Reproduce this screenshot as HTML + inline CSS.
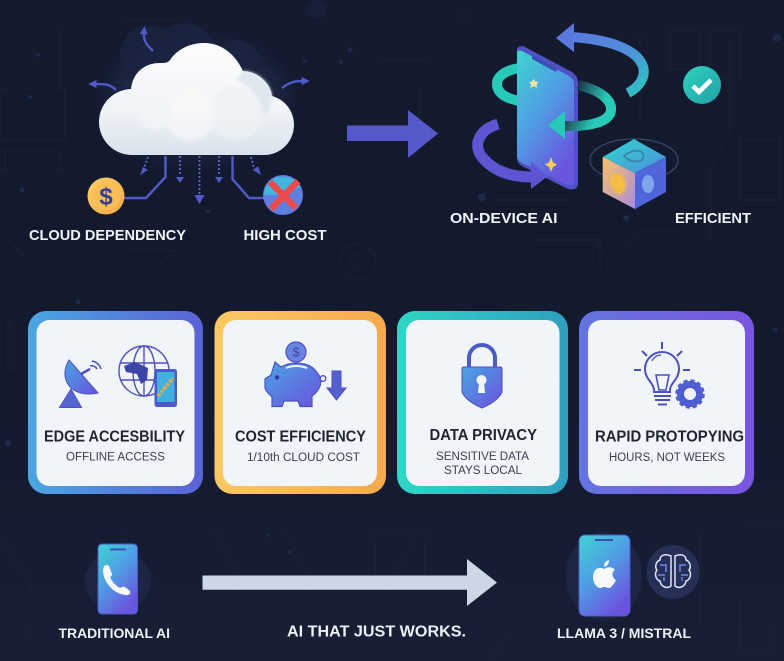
<!DOCTYPE html>
<html>
<head>
<meta charset="utf-8">
<style>
html,body{margin:0;padding:0;background:#151b30}
svg{display:block}
text{font-family:"Liberation Sans",sans-serif}
</style>
</head>
<body>
<svg width="784" height="661" viewBox="0 0 784 661" xmlns="http://www.w3.org/2000/svg">
<defs>
<linearGradient id="bg" x1="0" y1="0" x2="0" y2="1"><stop offset="0" stop-color="#151a2e"/><stop offset=".6" stop-color="#131a2e"/><stop offset="1" stop-color="#181e34"/></linearGradient>
<linearGradient id="cloud" x1="0" y1="0" x2="0" y2="1"><stop offset="0" stop-color="#fdfdfe"/><stop offset=".6" stop-color="#f0f3f7"/><stop offset="1" stop-color="#d9e2ec"/></linearGradient>
<linearGradient id="phone" x1="0" y1="0" x2=".6" y2="1"><stop offset="0" stop-color="#3fd4d0"/><stop offset=".5" stop-color="#4f9fe4"/><stop offset="1" stop-color="#6a55de"/></linearGradient>
<linearGradient id="a1" gradientUnits="userSpaceOnUse" x1="570" y1="30" x2="640" y2="95"><stop offset="0" stop-color="#5b78df"/><stop offset=".6" stop-color="#4f8fdc"/><stop offset="1" stop-color="#2fc4c0"/></linearGradient>
<linearGradient id="tealFade" gradientUnits="userSpaceOnUse" x1="578" y1="84" x2="606" y2="98"><stop offset="0" stop-color="#1c3345"/><stop offset="1" stop-color="#27c9b8"/></linearGradient>
<linearGradient id="c1" x1="0" y1="0" x2="1" y2="0"><stop offset="0" stop-color="#4aa6e2"/><stop offset="1" stop-color="#5b62d6"/></linearGradient>
<linearGradient id="c2" x1="0" y1="0" x2="1" y2="0"><stop offset="0" stop-color="#fdc862"/><stop offset="1" stop-color="#f6a94c"/></linearGradient>
<linearGradient id="c3" x1="0" y1="0" x2="1" y2="0"><stop offset="0" stop-color="#2fd6c6"/><stop offset="1" stop-color="#2ea0c0"/></linearGradient>
<linearGradient id="c4" x1="0" y1="0" x2="1" y2="0"><stop offset="0" stop-color="#6474e0"/><stop offset="1" stop-color="#7a55e0"/></linearGradient>
<linearGradient id="ic" x1="0" y1="0" x2="1" y2="1"><stop offset="0" stop-color="#4aa4e4"/><stop offset="1" stop-color="#6a52dc"/></linearGradient>
<linearGradient id="coin" x1="0" y1="0" x2="1" y2="1"><stop offset="0" stop-color="#fdd068"/><stop offset="1" stop-color="#f2a948"/></linearGradient>
<linearGradient id="chk" x1="0" y1="0" x2="1" y2="1"><stop offset="0" stop-color="#2bd1bf"/><stop offset="1" stop-color="#24a0a6"/></linearGradient>
<linearGradient id="cubeL" x1="0" y1="0" x2="1" y2="1"><stop offset="0" stop-color="#f6c26a"/><stop offset="1" stop-color="#a98be0"/></linearGradient>
<linearGradient id="cubeT" x1="0" y1="0" x2="1" y2="1"><stop offset="0" stop-color="#2fd6c8"/><stop offset="1" stop-color="#4d8fe0"/></linearGradient>
<filter id="soft"><feGaussianBlur stdDeviation="10"/></filter>
<filter id="s2"><feGaussianBlur stdDeviation="1.500"/></filter>
<marker id="mk" viewBox="0 0 10 10" refX="3" refY="5" markerWidth="3.4" markerHeight="3.4" orient="auto"><path d="M0 0L10 5L0 10Z" fill="#5059c8"/></marker>
</defs>

<rect width="784" height="661" fill="url(#bg)"/>

<!-- faint circuit background -->
<g fill="none" stroke="#222a45" stroke-width="1" opacity=".4">
<rect x="0" y="88" width="65" height="52"/><rect x="5" y="150" width="55" height="20"/>
<path d="M0 170H65M125 20H190V70M60 30V90M640 35V120M670 30h30v40h-30zM710 30h30v50h-30zM730 40V130L710 170V240M740 140h40v60h-40zM378 60h50M420 85v50M490 200h80M530 240h70v30M600 280l40-50h40M170 255l-40 30M10 240l40 50M120 250h60"/>
<circle cx="358" cy="262" r="18"/><circle cx="358" cy="262" r="8"/><circle cx="465" cy="16" r="5"/>
<path d="M0 540l30 40v60M120 530l40 60M215 530l20 40 0 60M280 520l30 60-30 60M375 528h50v60h-50zM420 530l-40 70M530 600l-40 60M700 530v100M740 520h44M12 320v50h-4v-50zM740 600h30v50h-30z"/>
</g>
<g fill="#26345e" opacity=".55">
<circle cx="38" cy="55" r="2"/><circle cx="30" cy="97" r="2"/><circle cx="350" cy="50" r="2.500"/><circle cx="341" cy="62" r="2"/><circle cx="305" cy="61" r="2"/><circle cx="22" cy="190" r="2.500"/><circle cx="208" cy="211" r="2"/><circle cx="626" cy="218" r="3"/><circle cx="482" cy="197" r="4"/><circle cx="777" cy="38" r="4"/><circle cx="8" cy="443" r="3"/><circle cx="78" cy="302" r="2.500"/><circle cx="268" cy="535" r="2"/><circle cx="290" cy="552" r="2"/><circle cx="775" cy="330" r="2.500"/>
<circle cx="317" cy="9" r="9" opacity=".4"/>
</g>

<!-- cloud halo -->
<ellipse cx="197" cy="100" rx="90" ry="58" fill="#243157" opacity=".55" filter="url(#soft)"/>
<g fill="#1a2442" opacity=".75"><circle cx="150" cy="55" r="30"/><circle cx="185" cy="55" r="32"/><circle cx="235" cy="68" r="28"/></g>

<!-- connectors & cloud arrows -->
<g fill="none" stroke="#5059c8" stroke-width="2.400">
<path d="M153 51C148 46 143 42 144 32" marker-end="url(#mk)"/>
<path d="M116 90C110 84 105 84 94 84" marker-end="url(#mk)"/>
<path d="M282 88C290 82 294 81 304 81" marker-end="url(#mk)"/>
<path d="M165.500 156V177L146 198H124"/>
<path d="M232.500 156V179L249 198H265"/>
</g>
<g fill="none" stroke="#5c6ad2" stroke-width="1.800" stroke-dasharray="2 2">
<path d="M148 157L144 168"/><path d="M251 157L254 168"/><path d="M180 156V176"/><path d="M199.500 156V194"/><path d="M219 156V176"/>
</g>
<g fill="#5059c8">
<path d="M140 175L148 170L143 167Z"/><path d="M261 175L253 170L258 166Z"/>
<path d="M176 177H184L180 183Z"/><path d="M215 177H223L219 183Z"/><path d="M194.500 195H204.500L199.500 204Z"/>
</g>

<!-- cloud -->
<path d="M133 155A33 33 0 0 1 131 89C133 72 145 63 160 63C168 63 168 62 170 60C178 48 192 43 204 43C223 43 236 56 243 71C258 71 271 84 272 96C286 100 294 112 294 125A30 30 0 0 1 264 155Z" fill="url(#cloud)"/>
<g filter="url(#s2)">
<path d="M243 71C258 71 271 84 272 96L268 113C262 116 261 116 260 110C258 95 250 84 236 80Z" fill="#dbe4ec" opacity=".85"/>
<circle cx="190" cy="115" r="26" fill="#f6f8fa" opacity=".7"/>
<circle cx="237" cy="113" r="26" fill="#eef2f6" opacity=".85"/>
<circle cx="155" cy="115" r="16" fill="#f0f3f7"/>
</g>

<!-- coin / no-cost -->
<circle cx="106" cy="196" r="18.500" fill="url(#coin)"/>
<circle cx="106" cy="196" r="14" fill="#f9bf56"/>
<text x="106" y="204.500" font-size="24" font-weight="bold" fill="#343c9c" text-anchor="middle">$</text>
<circle cx="283" cy="195" r="20" fill="#5f7ee0"/>
<path d="M264 195A19 19 0 0 1 300 187L283 195Z" fill="#43b4de"/>
<path d="M270 182L296 208M298 181L271 209" stroke="#ee4a4a" stroke-width="6.500"/>

<!-- big arrow -->
<path d="M347 125.500H408V110L438 133.500L408 158V141H347Z" fill="#5458c8"/>

<!-- top loop arrow -->
<path d="M628 93C656 78 652 42 571 37" fill="none" stroke="url(#a1)" stroke-width="10"/>
<path d="M556 38L574 23V52Z" fill="#5b78df"/>

<!-- behind phone teal loop -->
<path d="M519 68C502 71 494 79 498 89C501 96 510 99 519 101" fill="none" stroke="#27c9b8" stroke-width="10"/>

<!-- phone -->
<path d="M517 50Q517 46 523 46L572 72Q578 76 578 82V183Q578 191 568 189L522 166Q517 163 517 158Z" fill="#4e52c4"/>
<path d="M517 52Q517 50 522 51L569 76Q574 79 574 84V181Q574 187 568 185L522 163Q517 160 517 156Z" fill="url(#phone)"/>
<path d="M532 55L557 68.500L556 72L532 59Z" fill="#3a4fb2"/>
<path d="M533.500 79l2 2.500 3 .5-2 2.500.5 3.500-3.500-2-3 2 .5-3.500-2-2.500 3-.5z" fill="#fbe7a0"/>
<path d="M551 157l2 5.500 4 2-4 2.500-2 5-2-5-4-2.500 4-2z" fill="#f8cf52"/>

<!-- right teal loop -->
<path d="M578 85C600 90 612 100 611 110C610 122 590 127 563 126" fill="none" stroke="url(#tealFade)" stroke-width="10"/>
<path d="M548 125L565 111V139Z" fill="#27c9b8"/>

<!-- purple loop -->
<path d="M498 124C478 130 473 146 482 157C494 172 512 177 532 177" fill="none" stroke="#5d55d2" stroke-width="11"/>
<path d="M548 176L531 162V189Z" fill="#5d55d2"/>

<!-- cube -->
<ellipse cx="634" cy="160" rx="44" ry="21" fill="none" stroke="#465a85" stroke-width="1.200" opacity=".7"/>
<path d="M602.700 157L634 139L666 157L635 173Z" fill="url(#cubeT)"/>
<path d="M602.700 157L635 173V209L602.700 192Z" fill="url(#cubeL)"/>
<path d="M666 157L635 173V209L666 192Z" fill="#5166da"/>
<path d="M624 156Q634 148 642 152Q646 158 640 161Q630 163 624 156Z" fill="none" stroke="#3e86ae" stroke-width="1.800"/>
<path d="M610 175Q624 170 626 184Q626 195 618 194Q609 190 610 175Z" fill="#f7bd42" filter="url(#s2)"/>
<ellipse cx="648" cy="184" rx="6" ry="9" fill="#7ea6ea"/>

<!-- check -->
<circle cx="702" cy="85" r="19" fill="url(#chk)"/>
<path d="M693 86L699 92L711 80" fill="none" stroke="#fff" stroke-width="4.500"/>

<!-- top labels -->
<g fill="#f0f3f8" font-weight="bold" font-size="15">
<text x="29" y="240" textLength="157" lengthAdjust="spacingAndGlyphs">CLOUD DEPENDENCY</text>
<text x="243.500" y="240" textLength="83" lengthAdjust="spacingAndGlyphs">HIGH COST</text>
<text x="450" y="223" textLength="107.500" lengthAdjust="spacingAndGlyphs">ON-DEVICE AI</text>
<text x="675" y="223" textLength="76" lengthAdjust="spacingAndGlyphs">EFFICIENT</text>
</g>

<!-- cards -->
<rect x="28" y="311" width="175" height="183" rx="18" fill="url(#c1)"/>
<rect x="36.500" y="320" width="158" height="166" rx="13" fill="#f1f4f8"/>
<rect x="214.500" y="311" width="171.500" height="183" rx="18" fill="url(#c2)"/>
<rect x="223" y="320" width="154" height="166" rx="13" fill="#f1f4f8"/>
<rect x="397" y="311" width="171" height="183" rx="18" fill="url(#c3)"/>
<rect x="406" y="320" width="153.500" height="166" rx="13" fill="#f1f4f8"/>
<rect x="579" y="311" width="175" height="183" rx="18" fill="url(#c4)"/>
<rect x="588" y="320" width="157" height="166" rx="13" fill="#f1f4f8"/>

<!-- card 1 icons -->
<path d="M69 360C58 378 70 399 98 393Z" fill="url(#ic)" stroke="#4b51c0" stroke-width="1"/>
<path d="M81 374L90 369" stroke="#4b51c0" stroke-width="2.500"/>
<path d="M90 366a6 6 0 0 1 7 3M92 361a11 11 0 0 1 9 8" fill="none" stroke="#4b51c0" stroke-width="1.500"/>
<path d="M59.500 407.500H81.500L71 389Z" fill="#5466d4" stroke="#4b51c0"/>
<g fill="none" stroke="#4b51c0" stroke-width="1.400">
<circle cx="144" cy="371" r="25"/><ellipse cx="144" cy="371" rx="11" ry="25"/><path d="M144 346V396M120 363H168M120 380H168"/>
</g>
<path d="M124 366L135 362L148 368L147 380L141 384L137 374L126 372Z" fill="#3c44a8"/>
<rect x="154.500" y="369" width="22.500" height="38" rx="2.500" fill="#4f58c8"/>
<rect x="157" y="372" width="17.500" height="30" fill="#3fb0e0"/>
<path d="M158 396L173 378" stroke="#f7a93c" stroke-width="3.500" stroke-dasharray="3 1.500"/>

<!-- card 2 icons -->
<circle cx="296" cy="352" r="10" fill="#6a82e0" stroke="#4b51c0" stroke-width="1.200"/>
<text x="296" y="356.500" font-size="13" fill="#4046b0" text-anchor="middle">$</text>
<path d="M275 362L281 367C292 361 308 362 315 370C320 375 322 380 320 386C318 391 315 394 312 396V406.500H300L298 401H284L282 406.500H272V397C268 393 266 391 265 388V379L271 375Z" fill="url(#ic)" stroke="#4b51c0" stroke-width="1.200"/>
<circle cx="323" cy="378.500" r="2.800" fill="none" stroke="#4b51c0" stroke-width="1.300"/>
<circle cx="277" cy="377.500" r="2.200" fill="#343c9c"/>
<path d="M286 368Q296 364 307 368" fill="none" stroke="#eef1f8" stroke-width="2"/>
<path d="M332 371H341V388H346L336.500 400L327 388H332Z" fill="#5560d0" stroke="#4b51c0"/>

<!-- card 3 icon -->
<path d="M469 369V358A13 13 0 0 1 495 358V369" fill="none" stroke="#4b5ac8" stroke-width="4"/>
<path d="M464 367H500Q502 367 502 369V392Q498 401 482 408Q466 401 462 392V369Q462 367 464 367Z" fill="url(#ic)" stroke="#4b51c0" stroke-width="1"/>
<circle cx="481.500" cy="380" r="5" fill="#f4f6f9"/>
<path d="M479 382H484L485 393H478Z" fill="#f4f6f9"/>

<!-- card 4 icon -->
<g fill="none" stroke="#4b51c0" stroke-width="2">
<path d="M654 392C655 383 645 380 645 369A17 17 0 0 1 679 369C679 380 669 383 670 392Z"/>
<path d="M656 375H669L666 390H659Z" stroke-width="1.600"/>
<path d="M654 396H671M655 400H670M658 404.500H667"/>
<path d="M662 342V349M642 351L647 356M682 351L677 356M634 370H641M683 370H690"/>
<path d="M652 361Q655 355 661 355" stroke-width="1.300"/>
</g>
<circle cx="690" cy="394" r="9.500" fill="none" stroke="#4f5ed0" stroke-width="7"/>
<circle cx="690" cy="394" r="13" fill="none" stroke="#4f5ed0" stroke-width="3.500" stroke-dasharray="4 2.800"/>

<!-- card text -->
<g fill="#1f2535" font-weight="bold" font-size="15.500">
<text x="44" y="441.500" textLength="141" lengthAdjust="spacingAndGlyphs">EDGE ACCESBILITY</text>
<text x="235" y="441.500" textLength="131" lengthAdjust="spacingAndGlyphs">COST EFFICIENCY</text>
<text x="429.500" y="440" textLength="107.500" lengthAdjust="spacingAndGlyphs">DATA PRIVACY</text>
<text x="595" y="441.500" textLength="149" lengthAdjust="spacingAndGlyphs">RAPID PROTOPYING</text>
</g>
<g fill="#3a404f" font-size="11.500">
<text x="66" y="460.500" textLength="99" lengthAdjust="spacingAndGlyphs">OFFLINE ACCESS</text>
<text x="247" y="461" textLength="113" lengthAdjust="spacingAndGlyphs">1/10th CLOUD COST</text>
<text x="436" y="460" textLength="93" lengthAdjust="spacingAndGlyphs">SENSITIVE DATA</text>
<text x="444" y="474" textLength="78" lengthAdjust="spacingAndGlyphs">STAYS LOCAL</text>
<text x="609" y="461" textLength="116" lengthAdjust="spacingAndGlyphs">HOURS, NOT WEEKS</text>
</g>

<!-- bottom row -->
<ellipse cx="118" cy="581" rx="33" ry="30" fill="#232c4d" opacity=".6"/>
<rect x="98" y="544" width="39.500" height="70" rx="4" fill="url(#phone)" stroke="#4b5ac8" stroke-width="1"/>
<rect x="110" y="548.500" width="16" height="1.800" fill="#3a4fb2"/>
<path d="M105 566Q108 564 110 566L113 574Q113 576 111 577Q113 583 121 588Q124 586 126 587L131 591Q132 594 129 595Q122 596 113 589Q104 580 104 570Z" fill="#f7f9fc" transform="translate(-1 0)"/>

<path d="M202.500 575.500H467V559L497 582.500L467 606V589.700H202.500Z" fill="#cdd7e5"/>

<ellipse cx="604" cy="576" rx="38" ry="44" fill="#232c4d" opacity=".6"/>
<rect x="579" y="535" width="51" height="81" rx="6" fill="url(#phone)" stroke="#4b5ac8" stroke-width="1"/>
<rect x="595" y="539" width="18" height="2" fill="#3a4fb2"/>
<path d="M604 569C599 566 593 569 593 577C593 583 597 588 600 588C602 588 603 587 604.500 587C606 587 607 588 609 588C611 588 614 584 616 580C612 578 611 572 615 570C613 567 608 566 604 569Z" fill="#f7f9fc"/>
<path d="M604 567Q604 561 609 560Q609 566 604 567Z" fill="#f7f9fc"/>

<ellipse cx="673" cy="572" rx="26.500" ry="27" fill="#263057"/>
<g fill="none" stroke="#dfe4f8" stroke-width="1.500">
<path d="M671 556C664 553 660 556 660 560C655 562 655 568 657 570C654 574 656 580 660 581C661 587 667 589 671 586Z"/>
<path d="M675 556C682 553 686 556 686 560C691 562 691 568 689 570C692 574 690 580 686 581C685 587 679 589 675 586Z"/>
<path d="M660 565H666V572M658 575H665M664 581V577M686 565H680V572M688 575H681M682 581V577" stroke="#6f86e8"/>
</g>

<g fill="#eef1f6" font-weight="bold" font-size="14">
<text x="58.500" y="638" textLength="111.500" lengthAdjust="spacingAndGlyphs">TRADITIONAL AI</text>
<text x="287" y="636.500" textLength="179" lengthAdjust="spacingAndGlyphs" font-size="15.500">AI THAT JUST WORKS.</text>
<text x="557" y="638" textLength="134" lengthAdjust="spacingAndGlyphs">LLAMA 3 / MISTRAL</text>
</g>
</svg>
</body>
</html>
